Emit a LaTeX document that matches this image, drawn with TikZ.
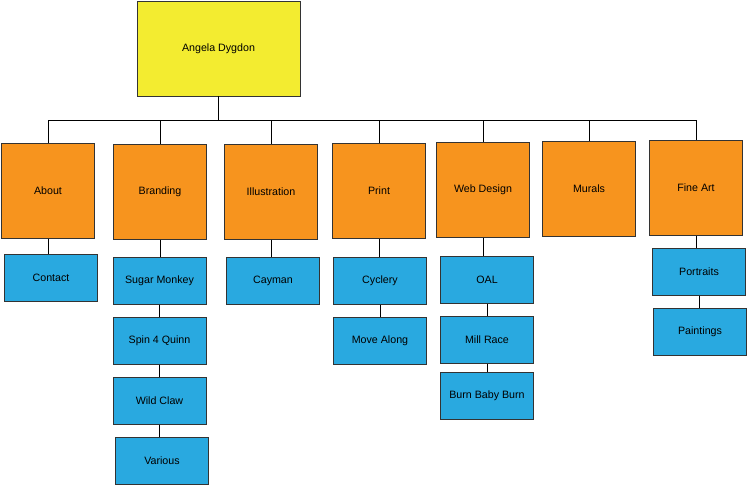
\documentclass[tikz,border=0pt]{standalone}
\usepackage{fontspec}
\setmainfont{Liberation Sans}
\definecolor{rootyellow}{HTML}{F3EC30}
\definecolor{secorange}{HTML}{F7941E}
\definecolor{pageblue}{HTML}{29A9E0}
\begin{document}
\begin{tikzpicture}[x=0.75pt,y=-0.75pt,font=\fontsize{8}{9}\selectfont,
  rnode/.style={draw=black!80,fill=rootyellow,minimum width=122pt,minimum height=71pt},
  snode/.style={draw=black!80,fill=secorange,minimum width=70pt,minimum height=71pt},
  pnode/.style={draw=black!80,fill=pageblue,minimum width=70pt,minimum height=35pt}]
    \useasboundingbox (0,0) rectangle (748,487);
    \node[rnode] (root) at (218.5,48.5) {Angela Dygdon};
    \coordinate (bar) at (0,120);

    \node[snode] (about) at (48,191) {About};
    \node[snode] (brand) at (160,192) {Branding};
    \node[snode] (illus) at (271,192) {Illustration};
    \node[snode] (print) at (379,191) {Print};
    \node[snode] (web) at (483,190) {Web Design};
    \node[snode] (murals) at (589,189) {Murals};
    \node[snode] (fine) at (696,188) {Fine Art};

    \node[pnode] (contact) at (51,278) {Contact};
    \node[pnode] (sugar) at (159.5,281) {Sugar Monkey};
    \node[pnode] (spin) at (159.5,341) {Spin 4 Quinn};
    \node[pnode] (wild) at (159.5,401) {Wild Claw};
    \node[pnode] (various) at (162,461) {Various};
    \node[pnode] (cayman) at (273,281) {Cayman};
    \node[pnode] (cyclery) at (380,281) {Cyclery};
    \node[pnode] (move) at (380,341) {Move Along};
    \node[pnode] (oal) at (487,280) {OAL};
    \node[pnode] (mill) at (487,340) {Mill Race};
    \node[pnode] (burn) at (487,396) {Burn Baby Burn};
    \node[pnode] (portraits) at (699,272) {Portraits};
    \node[pnode] (paintings) at (700,332) {Paintings};

    \draw (root.south) -- (root.south |- bar);
    \draw (about.north |- bar) -- (fine.north |- bar);
    \foreach \s in {about,brand,illus,print,web,murals,fine}
      \draw (\s.north |- bar) -- (\s.north);

    \draw (about.south) -- (about.south |- contact.north);
    \draw (brand.south) -- (brand.south |- sugar.north);
    \draw (sugar.south) -- (sugar.south |- spin.north);
    \draw (spin.south) -- (spin.south |- wild.north);
    \draw (wild.south) -- (wild.south |- various.north);
    \draw (illus.south) -- (illus.south |- cayman.north);
    \draw (print.south) -- (print.south |- cyclery.north);
    \draw (cyclery.south) -- (cyclery.south |- move.north);
    \draw (web.south) -- (web.south |- oal.north);
    \draw (oal.south) -- (oal.south |- mill.north);
    \draw (mill.south) -- (mill.south |- burn.north);
    \draw (fine.south) -- (fine.south |- portraits.north);
    \draw (portraits.south) -- (portraits.south |- paintings.north);
\end{tikzpicture}
\end{document}
